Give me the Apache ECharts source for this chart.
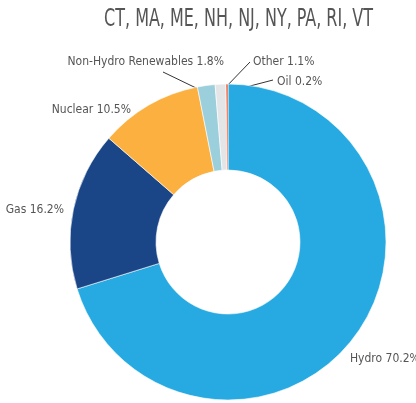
<!DOCTYPE html>
<html>
<head>
<meta charset="UTF-8">
<title>Generation mix</title>
<script src="https://cdn.jsdelivr.net/npm/echarts@6/dist/echarts.min.js"></script>
<style>
  html, body { margin: 0; padding: 0; background: #fff; }
  #chart { width: 416px; height: 403px; }
</style>
</head>
<body>
<div id="chart"></div>
<script>
    // data
    var titleText = 'CT, MA, ME, NH, NJ, NY, PA, RI, VT';
    var sources = ['Hydro', 'Gas', 'Nuclear', 'Non-Hydro Renewables', 'Other', 'Oil'];
    var shares = [70.2, 16.2, 10.5, 1.8, 1.1, 0.2];
    var colors = ['#27a9e1', '#1a4688', '#fbb040', '#9ccfdc', '#e4e5e7', '#e8502a'];

    var fontName = "'DejaVu Sans Condensed', 'Roboto', sans-serif";
    var cx = 228, cy = 242, rOut = 158;

    // where each label sits (text anchor), and where its leader line starts
    var labelPos = {
        'Hydro': { x: 350, y: 359, align: 'left' },
        'Gas': { x: 64, y: 210, align: 'right' },
        'Nuclear': { x: 131, y: 110, align: 'right' },
        'Non-Hydro Renewables': { x: 224, y: 62, align: 'right', line: [163, 72] },
        'Other': { x: 253, y: 62, align: 'left', line: [250, 62] },
        'Oil': { x: 277, y: 82, align: 'left', line: [273, 80] }
    };

    var total = 0;
    for (var j = 0; j < shares.length; j++) total += shares[j];

    // point inside the ring at the middle of slice i
    function sliceAnchor(i, r) {
        var before = 0;
        for (var k = 0; k < i; k++) before += shares[k];
        var a = (before + shares[i] / 2) / total * 2 * Math.PI;
        return [cx + r * Math.sin(a), cy - r * Math.cos(a)];
    }

    var pieData = [];
    for (var i = 0; i < sources.length; i++) {
        pieData.push({
            name: sources[i],
            value: shares[i],
            itemStyle: { color: colors[i] },
            labelLine: { show: !!labelPos[sources[i]].line }
        });
    }

    var myChart = echarts.init(document.getElementById('chart'));
    var option = {
        animation: false,
        // condensed title, squeezed horizontally
        graphic: [
            {
                type: 'text',
                x: 373,
                y: 8,
                scaleX: 0.74,
                style: {
                    text: titleText,
                    textAlign: 'right',
                    textVerticalAlign: 'top',
                    font: 'normal 24px ' + fontName,
                    fill: '#555'
                }
            }
        ],
        series: [
            {
                type: 'pie',
                center: [cx, cy],
                radius: [72, rOut],
                startAngle: 90,
                clockwise: true,
                avoidLabelOverlap: false,
                data: pieData,
                itemStyle: { borderColor: '#fff', borderWidth: 0.6 },
                label: {
                    show: true,
                    position: 'outside',
                    formatter: function (p) { return p.name + ' ' + p.value.toFixed(1) + '%'; },
                    fontFamily: fontName,
                    fontSize: 12,
                    color: '#555'
                },
                labelLine: {
                    length: 10,
                    length2: 10,
                    lineStyle: { color: '#333', width: 1 }
                },
                labelLayout: function (params) {
                    var name = sources[params.dataIndex];
                    var p = labelPos[name];
                    var res = { x: p.x, y: p.y, align: p.align, verticalAlign: 'middle' };
                    if (p.line) {
                        var start = sliceAnchor(params.dataIndex, rOut - 8);
                        res.labelLinePoints = [start, p.line, p.line];
                    }
                    return res;
                }
            }
        ]
    };
    myChart.setOption(option);
</script>
</body>
</html>
